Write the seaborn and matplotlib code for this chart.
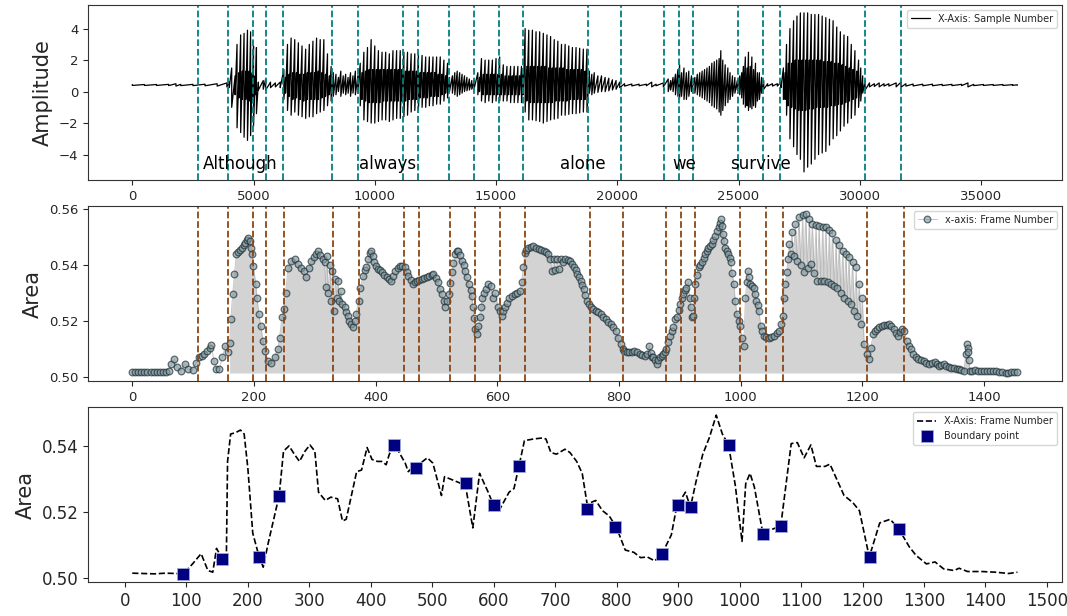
import numpy as np
import pandas as pd
import matplotlib
matplotlib.use("Agg")
import matplotlib.pyplot as plt
import seaborn as sns
from matplotlib.ticker import FormatStrFormatter

# waveform envelope (sample, upper, lower), one line per region
wave_x = [0, 500, 1000, 1500, 1800, 2000, 2500, 3000, 3500, 3900, 4000,
          4100, 4240, 4320, 4400, 4470, 4540, 4610, 4680, 4750, 4820, 4880, 4950, 5000, 5070, 5120, 5200,
          5400, 5500, 5700, 5900, 6100,
          6250, 6320, 6400, 6470, 6550, 6620, 6700, 6770, 6850, 6920, 7000, 7070, 7150, 7220, 7300, 7370,
          7450, 7520, 7600, 7670, 7750, 7820, 7900, 7970, 8050, 8130, 8200, 8290,
          8400, 8500, 8600, 8700, 8800, 8900, 9000, 9100, 9200, 9300,
          9400, 9470, 9550, 9620, 9700, 9770, 9850, 9920, 10000, 10070, 10150, 10220, 10300, 10370, 10450,
          10520, 10600, 10670, 10750, 10820, 10900, 10970, 11050, 11120, 11200, 11270, 11350, 11420, 11500,
          11570, 11650, 11720, 11800, 11870, 11950, 12020, 12100, 12170, 12250, 12320, 12400, 12470, 12550,
          12620, 12700, 12770, 12850, 12920, 13000, 13080,
          13200, 13300, 13400, 13500, 13600, 13700, 13800, 13900, 14000, 14100,
          14250, 14320, 14400, 14470, 14550, 14620, 14700, 14770, 14850, 14920, 15000, 15070, 15150, 15220,
          15300, 15370, 15450, 15520, 15600, 15670, 15750, 15820, 15900, 15970, 16050, 16120,
          16200, 16270, 16350, 16420, 16500, 16570, 16650, 16720, 16800, 16870, 16950, 17020, 17100, 17170,
          17250, 17320, 17400, 17470, 17550, 17620, 17700, 17770, 17850, 17920, 18000, 18070, 18150, 18220,
          18300, 18370, 18450, 18520, 18600, 18670, 18750,
          18850, 18950, 19050, 19200, 19350, 19500, 19650, 19800, 19950, 20100,
          20300, 20600, 20900, 21200, 21420, 21600, 21900,
          22100, 22200, 22300, 22400, 22500, 22570, 22650, 22750, 22850, 22950, 23060,
          23200, 23300, 23400, 23500, 23600, 23700, 23800, 23900, 24000, 24100, 24200, 24270, 24350, 24450,
          24560, 24650, 24750, 24850, 24950,
          25050, 25130, 25200, 25280, 25350, 25410, 25480, 25550, 25620, 25700, 25780, 25860, 25950, 26040,
          26200, 26400, 26600, 26750,
          26850, 26920, 26980, 27050, 27120, 27190, 27270, 27340, 27410, 27480, 27550, 27620, 27700, 27770,
          27850, 27920, 28000, 28070, 28150, 28220, 28300, 28370, 28450, 28520, 28600, 28670, 28750, 28820,
          28900, 28970, 29050, 29120, 29200, 29270, 29350, 29420, 29500, 29570, 29650, 29720, 29800, 29870,
          29950, 30040, 30120, 30220,
          30400, 30600, 30800, 31000, 31200, 31500, 31700, 31900, 32200, 32600, 33000, 33400, 33800, 34200,
          34460, 34700, 35100, 35500, 35900, 36300, 36500]
wave_hi = [0.45, 0.45, 0.45, 0.46, 0.50, 0.46, 0.46, 0.47, 0.50, 0.55, 0.60,
           1.5, 1.0, 3.0, 1.2, 3.6, 1.3, 3.7, 1.3, 3.9, 1.3, 3.8, 1.2, 2.9, 1.0, 2.8, 0.6,
           0.7, 0.8, 0.6, 0.55, 0.6,
           1.4, 0.9, 3.0, 1.1, 3.4, 1.2, 3.3, 1.2, 3.1, 1.1, 2.9, 1.1, 2.7, 1.2, 3.0, 1.2,
           3.2, 1.2, 3.4, 1.3, 3.3, 1.2, 3.3, 1.1, 2.4, 1.0, 1.6, 1.2,
           1.1, 0.9, 1.3, 1.0, 1.1, 0.9, 1.2, 1.0, 1.3, 1.0,
           1.8, 1.2, 2.5, 1.3, 2.8, 1.4, 3.3, 1.4, 2.9, 1.4, 2.6, 1.4, 2.5, 1.4, 2.5,
           1.4, 2.4, 1.4, 2.6, 1.4, 2.6, 1.4, 2.6, 1.4, 2.5, 1.3, 2.5, 1.3, 2.4,
           1.3, 2.4, 1.3, 2.3, 1.2, 2.3, 1.2, 2.2, 1.2, 2.2, 1.2, 2.2, 1.2, 2.2,
           1.1, 2.2, 1.1, 2.0, 1.0, 1.8, 0.9,
           1.0, 1.2, 1.3, 1.2, 1.1, 1.0, 0.9, 0.8, 0.7, 0.7,
           1.2, 0.9, 2.1, 1.1, 2.0, 1.1, 2.0, 1.1, 2.0, 1.1, 2.1, 1.1, 2.2, 1.1,
           1.7, 1.0, 1.6, 1.0, 1.6, 1.0, 1.6, 1.0, 1.6, 1.0, 1.6, 1.1,
           4.0, 1.6, 3.9, 1.6, 3.9, 1.6, 3.8, 1.6, 3.8, 1.6, 3.7, 1.6, 3.6, 1.5,
           3.5, 1.5, 3.3, 1.5, 3.2, 1.5, 3.0, 1.5, 3.0, 1.4, 2.9, 1.4, 2.8, 1.4,
           2.8, 1.4, 2.75, 1.4, 2.7, 1.3, 2.7,
           1.3, 1.1, 1.2, 1.0, 1.0, 0.9, 0.85, 0.75, 0.7, 0.6,
           0.5, 0.48, 0.47, 0.47, 0.6, 0.47, 0.55,
           0.8, 0.7, 0.9, 1.1, 1.4, 1.7, 1.2, 1.5, 1.2, 1.3, 1.0,
           0.9, 1.1, 1.2, 1.3, 1.4, 1.5, 1.6, 1.8, 1.9, 2.0, 2.1, 2.6, 2.0, 1.7,
           1.5, 1.2, 1.0, 0.9, 0.7,
           1.0, 1.2, 1.6, 2.2, 1.5, 2.5, 1.6, 2.2, 1.4, 1.8, 1.2, 1.2, 0.9, 0.7,
           0.5, 0.5, 0.5, 0.6,
           1.5, 1.2, 3.0, 1.8, 4.0, 1.8, 4.5, 2.0, 4.8, 2.0, 5.0, 2.0, 5.0, 2.0,
           5.0, 2.0, 4.9, 2.0, 4.9, 2.0, 4.9, 2.0, 4.8, 1.9, 4.7, 1.9, 4.6, 1.9,
           4.5, 1.8, 4.1, 1.8, 3.8, 1.7, 3.6, 1.6, 3.5, 1.5, 3.0, 1.4, 2.6, 1.3,
           2.0, 1.5, 1.0, 0.7,
           0.55, 0.5, 0.55, 0.5, 0.5, 0.55, 0.6, 0.5, 0.48, 0.47, 0.47, 0.46, 0.46, 0.46,
           0.55, 0.46, 0.45, 0.45, 0.45, 0.44, 0.43]
wave_lo = [0.39, 0.39, 0.39, 0.38, 0.35, 0.38, 0.38, 0.37, 0.35, 0.30, 0.25,
           -1.0, -0.2, -2.3, -0.4, -2.6, -0.5, -2.9, -0.5, -3.1, -0.6, -2.8, -0.5, -2.2, -0.2, -1.4, 0.1,
           0.15, 0.1, 0.25, 0.3, 0.25,
           -0.5, -0.1, -1.2, -0.3, -1.5, -0.5, -1.3, -0.4, -1.5, -0.5, -1.6, -0.6, -1.7, -0.5, -1.6, -0.5,
           -1.6, -0.5, -1.4, -0.5, -1.3, -0.4, -1.2, -0.3, -0.9, -0.2, -0.6, -0.3,
           -0.2, 0.0, -0.3, -0.1, -0.2, -0.1, -0.3, -0.1, -0.2, -0.1,
           -0.9, -0.5, -1.8, -0.6, -1.9, -0.7, -2.0, -0.7, -2.0, -0.7, -1.9, -0.7, -1.8, -0.6, -1.8,
           -0.6, -1.9, -0.6, -1.8, -0.6, -1.7, -0.6, -1.7, -0.6, -1.6, -0.6, -1.5, -0.5, -1.3,
           -0.5, -1.2, -0.5, -1.1, -0.4, -1.0, -0.4, -1.0, -0.4, -0.9, -0.3, -0.9, -0.3, -0.8,
           -0.3, -0.8, -0.2, -0.6, -0.1, -0.4, 0.0,
           -0.1, -0.2, -0.3, -0.2, -0.1, 0.0, 0.05, 0.1, 0.15, 0.2,
           -0.2, 0.0, -0.6, -0.2, -0.7, -0.2, -0.6, -0.2, -0.7, -0.2, -0.6, -0.2, -0.6, -0.2,
           -0.6, -0.2, -0.6, -0.2, -0.7, -0.2, -0.7, -0.2, -0.7, -0.2, -0.7, -0.2,
           -1.3, -0.6, -1.8, -0.7, -1.8, -0.7, -1.85, -0.7, -1.9, -0.7, -2.0, -0.7, -1.9, -0.7,
           -1.8, -0.7, -1.75, -0.6, -1.7, -0.6, -1.5, -0.6, -1.5, -0.6, -1.45, -0.5, -1.4, -0.5,
           -1.4, -0.5, -1.35, -0.5, -1.3, -0.5, -1.3,
           -0.1, -0.2, -0.1, -0.05, 0.0, 0.0, 0.05, 0.1, 0.15, 0.25,
           0.35, 0.36, 0.37, 0.37, 0.3, 0.37, 0.3,
           0.0, 0.1, 0.0, -0.2, -0.3, -0.4, -0.3, -0.5, -0.5, -0.3, 0.0,
           -0.1, -0.2, -0.3, -0.4, -0.5, -0.6, -0.7, -0.9, -1.0, -1.1, -1.3, -1.5, -1.2, -0.9,
           -0.7, -0.5, -0.3, -0.1, 0.1,
           -0.2, -0.4, -0.8, -1.0, -0.9, -1.2, -1.0, -1.1, -0.9, -1.0, -0.6, -0.5, -0.1, 0.15,
           0.35, 0.35, 0.35, 0.25,
           -0.5, -0.5, -1.5, -0.9, -3.0, -1.0, -3.5, -1.1, -4.0, -1.2, -4.3, -1.2, -5.1, -1.2,
           -4.8, -1.1, -4.6, -1.1, -4.3, -1.0, -4.0, -1.0, -3.9, -1.0, -3.8, -1.0, -3.4, -0.9,
           -3.0, -0.9, -2.8, -0.8, -2.5, -0.8, -2.2, -0.7, -2.0, -0.6, -1.7, -0.5, -1.5, -0.4,
           -1.0, -0.6, -0.1, 0.1,
           0.3, 0.33, 0.3, 0.35, 0.35, 0.3, 0.28, 0.35, 0.36, 0.37, 0.37, 0.38, 0.38, 0.38,
           0.3, 0.38, 0.39, 0.39, 0.39, 0.4, 0.41]

words = ["Although", "always", "alone", "we", "survive"]
word_x = [2900, 9350, 17650, 22280, 24670]

# segment boundaries in frames (hop of 25 samples per frame)
hop = 25
boundary_frames = [108, 158, 199, 220, 249, 330, 372, 446, 472, 523, 564, 605, 645,
                   752, 806, 877, 902, 925, 999, 1041, 1069, 1208, 1268]

# area per frame (middle panel)
mid_frame = [0, 5, 10, 15, 20, 25, 30, 35, 40, 45, 50, 55, 60,
             64, 69, 74, 80, 86, 92, 99, 105, 110, 114, 118, 123, 127, 130, 134, 138, 143, 148, 153, 157,
             160, 162, 165, 168, 171, 174, 177, 180, 183, 186, 189, 191, 193, 195, 197, 199, 203, 205, 208, 211,
             215, 218, 223, 228, 234, 239, 242, 246, 249, 252, 256, 261, 267, 273, 278, 282, 286, 290, 294, 298,
             302, 305, 309, 313,
             316, 318, 320, 322, 325, 327, 329, 331, 334, 336, 338, 340, 343, 345, 349, 352, 354, 357, 360, 363,
             366, 368, 372, 375, 379, 382, 385, 388, 390, 393, 396, 398,
             401, 404, 407, 411, 414, 418, 422, 426, 429, 432, 436, 440, 444, 448, 451, 454, 458, 462, 465, 468,
             472, 476, 480, 484, 488, 492, 495, 499,
             503, 506, 509, 512, 514, 517, 520, 523, 525, 528, 531, 534, 536, 539, 542, 545, 547, 550, 553, 556,
             558, 560, 562, 564, 567, 569, 571, 573, 575, 578, 581, 585, 589, 593, 597, 601,
             604, 607, 610, 612, 616, 620, 625, 629, 633, 637, 640, 643, 645, 648, 651, 655, 659, 663, 668, 672,
             676, 680, 684, 687, 690, 693, 695, 698, 701,
             704, 708, 712, 716, 720, 723, 726, 729, 731, 734, 737, 740, 742, 745, 748, 751, 754, 758, 762, 766,
             770, 774, 778, 782, 787, 791, 795, 799, 803,
             806, 809, 813, 817, 821, 825, 829, 834, 838, 842, 846, 850, 852, 854, 856, 859, 862, 865, 867, 870,
             873, 876, 878, 881, 884, 887, 889, 892, 895, 898, 900,
             903, 906, 909, 911, 914, 916, 918, 920, 921, 923, 925, 928, 931, 934, 936, 939, 942, 945, 947, 950,
             953, 955, 958, 961, 964, 966, 968, 970, 971, 973, 975, 978, 980, 982, 984, 986, 989, 991, 994, 997,
             999, 1002, 1005,
             1008, 1010, 1012, 1014, 1016, 1019, 1022, 1024, 1026, 1028, 1030, 1033, 1035, 1038, 1042, 1046,
             1050, 1055, 1059, 1063, 1066, 1069, 1071, 1073, 1076, 1078,
             1080, 1082, 1084, 1087, 1090, 1093, 1096, 1099, 1102, 1104, 1107, 1110, 1113, 1115, 1118, 1121,
             1124, 1126, 1129, 1132, 1135, 1137, 1140, 1143, 1146, 1148, 1151, 1154, 1157, 1159, 1162, 1165,
             1168, 1170, 1173, 1176, 1178, 1181, 1184, 1187, 1190, 1192, 1195, 1198, 1200,
             1203, 1207, 1211, 1214, 1218, 1221, 1224, 1228, 1232, 1236, 1240, 1244, 1248, 1252, 1256, 1259,
             1262, 1265, 1269, 1273, 1277, 1280, 1284, 1288, 1292, 1297,
             1301, 1305, 1309, 1314, 1319, 1323, 1326, 1330, 1334, 1338, 1342, 1346, 1350, 1355, 1359, 1363,
             1367, 1370, 1372, 1373, 1374, 1375, 1377, 1381, 1386, 1390, 1395, 1400, 1405, 1410, 1415, 1420,
             1425, 1430, 1436, 1440, 1445, 1450, 1455]
mid_area = [0.5016, 0.5016, 0.5017, 0.5016, 0.5018, 0.5016, 0.5015, 0.5016, 0.5017, 0.5016, 0.5018, 0.5017, 0.5022,
            0.5045, 0.5063, 0.5033, 0.5020, 0.5047, 0.5027, 0.5024, 0.5050, 0.5069, 0.5075, 0.5081, 0.5092, 0.5104,
            0.5114, 0.5057, 0.5027, 0.5027, 0.5069, 0.5110, 0.5087,
            0.5120, 0.5206, 0.5295, 0.5367, 0.5439, 0.5445, 0.5455, 0.5462, 0.5470, 0.5480, 0.5490, 0.5496, 0.5485,
            0.5462, 0.5440, 0.5397, 0.5331, 0.5283, 0.5224, 0.5182, 0.5128, 0.5093, 0.5057, 0.5050, 0.5069, 0.5098,
            0.5140, 0.5212, 0.5242, 0.5301, 0.5390, 0.5415, 0.5420, 0.5403, 0.5390, 0.5379, 0.5355, 0.5390, 0.5415,
            0.5427, 0.5440, 0.5451, 0.5435, 0.5421,
            0.5410, 0.5320, 0.5433, 0.5300, 0.5400, 0.5272, 0.5379, 0.5236, 0.5350, 0.5280, 0.5343, 0.5272, 0.5307,
            0.5260, 0.5248, 0.5230, 0.5218, 0.5200, 0.5188, 0.5176, 0.5200, 0.5224, 0.5272, 0.5319, 0.5361, 0.5380,
            0.5391, 0.5420, 0.5444, 0.5451, 0.5430, 0.5409,
            0.5395, 0.5385, 0.5380, 0.5373, 0.5365, 0.5355, 0.5350, 0.5343, 0.5360, 0.5379, 0.5390, 0.5397, 0.5395,
            0.5391, 0.5375, 0.5361, 0.5345, 0.5331, 0.5340, 0.5343, 0.5347, 0.5349, 0.5352, 0.5355, 0.5360, 0.5365,
            0.5367, 0.5352,
            0.5337, 0.5315, 0.5295, 0.5270, 0.5248, 0.5270, 0.5295, 0.5335, 0.5373, 0.5405, 0.5439, 0.5448, 0.5451,
            0.5435, 0.5415, 0.5398, 0.5379, 0.5355, 0.5331, 0.5310, 0.5289, 0.5250, 0.5210, 0.5170, 0.5152, 0.5180,
            0.5212, 0.5250, 0.5283, 0.5300, 0.5313, 0.5331, 0.5325, 0.5283, 0.5300, 0.5248,
            0.5235, 0.5218, 0.5235, 0.5248, 0.5265, 0.5283, 0.5290, 0.5295, 0.5300, 0.5307, 0.5337, 0.5391, 0.5444,
            0.5455, 0.5462, 0.5465, 0.5468, 0.5462, 0.5456, 0.5453, 0.5451, 0.5445, 0.5439, 0.5421, 0.5379, 0.5421,
            0.5380, 0.5421, 0.5385,
            0.5421, 0.5410, 0.5421, 0.5418, 0.5415, 0.5403, 0.5391, 0.5380, 0.5367, 0.5355, 0.5343, 0.5328, 0.5313,
            0.5293, 0.5272, 0.5260, 0.5248, 0.5242, 0.5236, 0.5230, 0.5224, 0.5215, 0.5206, 0.5197, 0.5188, 0.5176,
            0.5164, 0.5140, 0.5116,
            0.5100, 0.5093, 0.5090, 0.5087, 0.5090, 0.5093, 0.5087, 0.5081, 0.5078, 0.5075, 0.5080, 0.5110, 0.5085,
            0.5070, 0.5069, 0.5058, 0.5047, 0.5058, 0.5069, 0.5075, 0.5081, 0.5090, 0.5098, 0.5125, 0.5145, 0.5165,
            0.5176, 0.5205, 0.5212, 0.5240, 0.5260,
            0.5280, 0.5295, 0.5310, 0.5319, 0.5337, 0.5280, 0.5248, 0.5212, 0.5218, 0.5280, 0.5331, 0.5365, 0.5391,
            0.5400, 0.5409, 0.5425, 0.5439, 0.5450, 0.5462, 0.5468, 0.5474, 0.5490, 0.5504, 0.5520, 0.5534, 0.5550,
            0.5564, 0.5540, 0.5510, 0.5485, 0.5462, 0.5450, 0.5439, 0.5425, 0.5409, 0.5370, 0.5331, 0.5272, 0.5224,
            0.5200, 0.5182, 0.5140, 0.5110,
            0.5283, 0.5340, 0.5379, 0.5355, 0.5331, 0.5325, 0.5319, 0.5295, 0.5272, 0.5255, 0.5236, 0.5182, 0.5165,
            0.5146, 0.5143, 0.5140, 0.5143, 0.5146, 0.5155, 0.5164, 0.5190, 0.5218, 0.5283, 0.5330, 0.5373, 0.5420,
            0.5474, 0.5439, 0.5516, 0.5430, 0.5545, 0.5415, 0.5570, 0.5400, 0.5578, 0.5373, 0.5582, 0.5390, 0.5565,
            0.5403, 0.5546, 0.5370, 0.5543, 0.5343, 0.5540, 0.5343, 0.5537, 0.5343, 0.5535, 0.5337, 0.5525, 0.5331,
            0.5515, 0.5325, 0.5490, 0.5319, 0.5470, 0.5300, 0.5451, 0.5283, 0.5440, 0.5270, 0.5427, 0.5260, 0.5410,
            0.5236, 0.5391, 0.5218, 0.5330, 0.5188, 0.5283,
            0.5116, 0.5080, 0.5063, 0.5104, 0.5152, 0.5162, 0.5170, 0.5176, 0.5182, 0.5184, 0.5186, 0.5188, 0.5180,
            0.5170, 0.5158, 0.5146, 0.5160, 0.5170, 0.5164, 0.5128, 0.5110, 0.5100, 0.5080, 0.5070, 0.5063, 0.5060,
            0.5057, 0.5050, 0.5045, 0.5050, 0.5054, 0.5045, 0.5039, 0.5042, 0.5045, 0.5038, 0.5033, 0.5032, 0.5030,
            0.5028, 0.5027, 0.5024, 0.5021, 0.5080, 0.5116, 0.5104, 0.5090, 0.5060, 0.5022, 0.5022, 0.5023, 0.5021,
            0.5020, 0.5020, 0.5021, 0.5020, 0.5019, 0.5019, 0.5017, 0.5016, 0.5013, 0.5014, 0.5015, 0.5016, 0.5017]

# smoothed area (bottom panel)
bot_frame = [12, 30, 48, 66, 84, 95, 110, 124, 135, 143,
             149, 157, 165, 167, 172, 180, 188, 194, 200, 208,
             217, 225, 233, 242, 251, 258, 267, 276, 284, 293,
             301, 309, 315, 326, 335, 346, 354, 360, 377, 385,
             394, 402, 411, 418, 425, 430, 437, 445, 456, 461,
             472, 481, 492, 501, 515, 520, 554, 566, 577, 591,
             602, 610, 625, 633, 641, 650, 665, 679, 685, 693,
             702, 716, 724, 735, 744, 752, 766, 777, 788, 800,
             814, 828, 839, 850, 862, 874, 889, 898, 912, 920,
             929, 940, 951, 962, 972, 982, 993, 1004, 1010, 1017,
             1024, 1038, 1052, 1067, 1084, 1094, 1105, 1116, 1125, 1139,
             1147, 1170, 1184, 1195, 1211, 1228, 1245, 1259, 1276, 1287,
             1304, 1318, 1332, 1349, 1357, 1371, 1394, 1416, 1438, 1452]
bot_area = [0.5015, 0.5014, 0.5013, 0.5015, 0.5014, 0.5013, 0.5043, 0.5074, 0.5023, 0.5018,
            0.5090, 0.5064, 0.5054, 0.5353, 0.5436, 0.5440, 0.5448, 0.5436, 0.5333, 0.5136,
            0.5074, 0.5033, 0.5105, 0.5178, 0.5250, 0.5384, 0.5400, 0.5374, 0.5353, 0.5384,
            0.5403, 0.5384, 0.5260, 0.5235, 0.5245, 0.5240, 0.5173, 0.5178, 0.5322, 0.5327,
            0.5395, 0.5359, 0.5353, 0.5353, 0.5343, 0.5374, 0.5402, 0.5384, 0.5348, 0.5322,
            0.5343, 0.5348, 0.5364, 0.5348, 0.5250, 0.5307, 0.5281, 0.5152, 0.5317, 0.5260,
            0.5209, 0.5209, 0.5260, 0.5271, 0.5338, 0.5416, 0.5421, 0.5424, 0.5421, 0.5380,
            0.5375, 0.5390, 0.5380, 0.5353, 0.5317, 0.5224, 0.5235, 0.5204, 0.5188, 0.5152,
            0.5085, 0.5078, 0.5062, 0.5064, 0.5052, 0.5074, 0.5131, 0.5219, 0.5260, 0.5214,
            0.5291, 0.5374, 0.5426, 0.5493, 0.5436, 0.5403, 0.5281, 0.5111, 0.5286, 0.5317,
            0.5276, 0.5134, 0.5147, 0.5158, 0.5407, 0.5410, 0.5364, 0.5403, 0.5338, 0.5338,
            0.5345, 0.5250, 0.5229, 0.5204, 0.5064, 0.5167, 0.5178, 0.5149, 0.5095, 0.5069,
            0.5043, 0.5049, 0.5028, 0.5023, 0.5030, 0.5020, 0.5020, 0.5018, 0.5014, 0.5018]

bnd_frame = [95, 158, 218, 251, 437, 474, 555, 601, 641, 752, 798, 874, 900, 921, 982, 1038, 1067, 1212, 1259]
bnd_area = [0.5012, 0.5058, 0.5063, 0.5249, 0.5402, 0.5332, 0.5288, 0.5220, 0.5338, 0.5209,
            0.5154, 0.5074, 0.5222, 0.5214, 0.5403, 0.5134, 0.5158, 0.5064, 0.5149]

sns.set_style("ticks", {"axes.edgecolor": "0.2"})
plt.rcParams["font.family"] = ["DejaVu Sans"]

fig, (ax1, ax2, ax3) = plt.subplots(3, 1, figsize=(10.67, 6.16), dpi=100)
fig.subplots_adjust(left=0.0825, right=0.995, top=0.992, bottom=0.055, hspace=0.15)

# --- top: waveform
zz_x = np.repeat(wave_x, 2)
zz_y = np.column_stack([wave_hi, wave_lo]).ravel()
ax1.plot(zz_x, zz_y, color="k", lw=0.9, label="X-Axis: Sample Number")
for b in boundary_frames:
    ax1.axvline(b * hop, color="teal", ls="--", lw=1.3)
for w, x in zip(words, word_x):
    ax1.text(x, -4.9, w, fontsize=12, ha="left", va="baseline", color="k")
ax1.set_yticks([-4, -2, 0, 2, 4])
ax1.set_ylabel("Amplitude", fontsize=15)
ax1.tick_params(labelsize=9.5)
ax1.legend(loc="upper right", fontsize=7)

# --- middle: area per frame
df_mid = pd.DataFrame({"frame": mid_frame, "area": mid_area})
fr = df_mid["frame"].to_numpy()
ar = df_mid["area"].to_numpy()
ax2.fill_between(fr, ar, ar.min(), where=fr >= 158, color="lightgray", lw=0, zorder=0)
sns.lineplot(data=df_mid, x="frame", y="area", ax=ax2, estimator=None, sort=False,
             color="#a9a9a9", lw=0.7, marker="o", markersize=4.8,
             markerfacecolor="#7f9aa3", markeredgecolor="#1c282c", markeredgewidth=0.9,
             alpha=0.65, label="x-axis: Frame Number")
for b in boundary_frames:
    ax2.axvline(b, color="#8B4513", ls="--", lw=1.3)
ax2.set_yticks([0.50, 0.52, 0.54, 0.56])
ax2.yaxis.set_major_formatter(FormatStrFormatter("%.2f"))
ax2.set_xlabel("")
ax2.set_ylabel("Area", fontsize=15)
ax2.tick_params(labelsize=9.5)
ax2.legend(loc="upper right", fontsize=7)

# --- bottom: smoothed area with boundary points
df_bot = pd.DataFrame({"frame": bot_frame, "area": bot_area})
df_bnd = pd.DataFrame({"frame": bnd_frame, "area": bnd_area})
sns.lineplot(data=df_bot, x="frame", y="area", ax=ax3, estimator=None, sort=False,
             color="k", ls="--", lw=1.2, label="X-Axis: Frame Number")
sns.scatterplot(data=df_bnd, x="frame", y="area", ax=ax3, marker="s", s=85,
                color="navy", edgecolor="#a0aad8", linewidth=0.6, label="Boundary point", zorder=3)
ax3.set_xticks(range(0, 1501, 100))
ax3.set_yticks([0.50, 0.52, 0.54])
ax3.yaxis.set_major_formatter(FormatStrFormatter("%.2f"))
ax3.set_xlabel("")
ax3.set_ylabel("Area", fontsize=15)
ax3.tick_params(labelsize=12)
ax3.legend(loc="upper right", fontsize=7)

fig.savefig("out.png", dpi=100)
